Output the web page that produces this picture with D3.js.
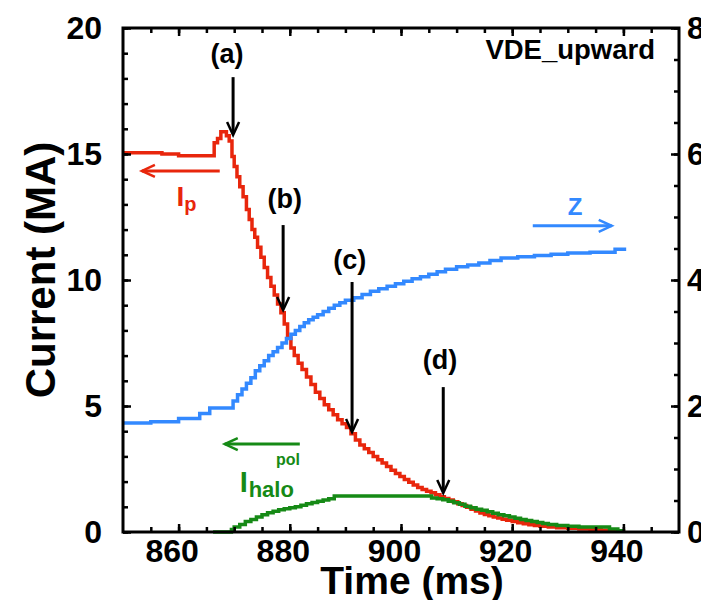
<!DOCTYPE html>
<html><head><meta charset="utf-8">
<script src="https://cdn.jsdelivr.net/npm/d3@7"></script>
<style>body{margin:0;background:#fff}svg{display:block}text{font-family:"Liberation Sans",Arial,Helvetica,sans-serif;font-weight:bold}</style>
</head><body><svg id="c" width="701" height="600"></svg>
<script>
// ---- data ----
const ipTime = [850,855,857,860,866,866.4,867.0,867.6,868.6,869.1,869.6,870.0,870.5,871.0,871.6,872.2,872.7,873.2,873.7,874.2,874.8,875.4,876.0,876.6,877.2,877.8,878.4,879.0,879.6,880.2,880.8,881.5,882.2,883.0,883.8,884.6,885.4,886.2,887.0,887.8,888.6,889.4,890.2,891.0,891.8,892.6,893.4,894.2,895.0,895.8,896.6,897.4,898.2,899.0,899.8,900.6,901.4,902.2,903.0,903.8,904.6,905.4,906.2,907.0,907.8,908.6,909.4,910.2,911.0,911.8,912.6,913.4,914.2,915.0,915.8,916.6,917.4,918.2,919.0,920.0,921.0,922.0,923.0,924.0,925.0,926.5,928.0,930.0,932.0,934.0,936.0,938.0,940.0];
const ipValue = [15.05,15.05,15.0,14.93,14.93,15.45,15.62,15.88,15.72,15.52,14.9,14.5,14.1,13.7,13.3,12.8,12.4,12.0,11.7,11.3,10.9,10.5,10.1,9.75,9.4,9.05,8.7,8.25,7.7,7.3,7.0,6.7,6.45,6.15,5.85,5.55,5.3,5.05,4.85,4.65,4.45,4.3,4.15,3.9,3.65,3.45,3.3,3.15,3.0,2.87,2.74,2.6,2.45,2.32,2.2,2.08,1.97,1.87,1.77,1.69,1.62,1.56,1.48,1.4,1.33,1.27,1.2,1.12,1.05,0.98,0.9,0.83,0.75,0.69,0.64,0.6,0.56,0.51,0.47,0.42,0.37,0.33,0.29,0.26,0.23,0.2,0.17,0.15,0.12,0.1,0.07,0.03,0.0];

const haloTime = [866.2,868.9,869.5,870.0,871.0,872.0,873.0,874.0,875.0,876.0,877.0,878.0,879.0,880.0,881.0,882.0,883.0,884.0,885.0,886.0,887.0,888.0,905.5,906.5,907.5,908.5,909.5,910.5,911.5,912.5,913.5,914.5,915.5,916.5,917.5,918.5,919.5,920.5,921.5,922.5,923.5,924.5,925.5,926.5,928.0,930.0,932.0,937.5,939.0,940.0];
const haloValue = [0,0,0.1,0.2,0.3,0.42,0.5,0.6,0.68,0.76,0.82,0.88,0.92,0.96,1.0,1.06,1.12,1.17,1.22,1.27,1.32,1.43,1.35,1.32,1.28,1.22,1.16,1.1,1.02,0.96,0.9,0.86,0.8,0.74,0.68,0.64,0.6,0.55,0.5,0.46,0.42,0.38,0.34,0.3,0.26,0.23,0.2,0.12,0.05,0];

const zTime = [850,855,860,863.8,865.6,869.4,869.8,870.6,871.4,872.2,873.0,873.8,874.6,875.4,876.2,877.0,877.8,878.6,879.4,880.2,881.0,881.8,882.6,883.4,884.2,885.0,886.0,887.0,888.0,889.0,890.0,891.5,893.0,894.5,896.0,897.5,899.0,900.5,902.0,903.5,905.0,906.5,908.0,910.0,912.0,914.0,916.0,918.0,921.0,924.0,927.0,930.0,934.0,938.5,940.5];
const zValue = [1.73,1.75,1.8,1.88,1.97,1.97,2.08,2.18,2.27,2.36,2.45,2.56,2.64,2.72,2.8,2.86,2.93,3.0,3.07,3.14,3.2,3.26,3.32,3.37,3.41,3.45,3.5,3.55,3.6,3.64,3.68,3.72,3.77,3.82,3.86,3.9,3.94,3.98,4.02,4.05,4.09,4.13,4.17,4.21,4.24,4.27,4.31,4.35,4.37,4.39,4.41,4.43,4.44,4.49,4.49];

const xTicks = [860,880,900,920,940];
const yTicks = [0,5,10,15,20];
const yRTicks = [0,2,4,6,8];

// annotation arrows (time, from current, to current, label)
const markLabels = ["(a)","(b)","(c)","(d)"];
const markTime   = [869.8,878.8,891.2,907.6];
const markFrom   = [18.05,12.18,9.92,5.75];
const markTo     = [15.75,8.81,3.97,1.55];
const markLabelT = [868.7,879.1,890.8,907.0];
const markLabelV = [18.62,12.85,10.45,6.45];

// ---- chart ----
const svg = d3.select("#c");
const x = d3.scaleLinear().domain([850,950]).range([123,679]);
const y = d3.scaleLinear().domain([0,20]).range([532,28]);
const yR = d3.scaleLinear().domain([0,8]).range([532,28]);

const RED="#e8260c", BLUE="#3389ff", GREEN="#168a16";

function pts(t,v){return t.map((d,i)=>[d,v[i]]);}
const lineI = d3.line().x(d=>x(d[0])).y(d=>y(d[1])).curve(d3.curveStepAfter);
const lineZ = d3.line().x(d=>x(d[0])).y(d=>yR(d[1])).curve(d3.curveStepAfter);

svg.append("path").attr("d",lineI(pts(ipTime,ipValue))).attr("fill","none").attr("stroke",RED).attr("stroke-width",3.5);
svg.append("path").attr("d",lineZ(pts(zTime,zValue))).attr("fill","none").attr("stroke",BLUE).attr("stroke-width",3.5);
svg.append("path").attr("d",lineI(pts(haloTime,haloValue))).attr("fill","none").attr("stroke",GREEN).attr("stroke-width",3.5);

// axes
function styleAxis(g){g.select(".domain").remove();g.selectAll("line").attr("stroke","#000").attr("stroke-width",2.5);}
const minorX = d3.range(855,950,5);
const minorY = d3.range(0,21,1);
const minorYR = d3.range(0,8.01,0.5);
const FS = 32;

svg.append("g").attr("transform","translate(0,532)").call(d3.axisBottom(x).tickValues(minorX).tickSize(-5).tickFormat("")).call(styleAxis);
svg.append("g").attr("transform","translate(0,532)").call(d3.axisBottom(x).tickValues(xTicks).tickSize(-8).tickPadding(7).tickFormat(d3.format("d"))).call(styleAxis)
  .selectAll("text").attr("font-size",FS).attr("fill","#000").attr("dx",-7);
svg.append("g").attr("transform","translate(0,28)").call(d3.axisTop(x).tickValues(minorX).tickSize(-5).tickFormat("")).call(styleAxis);
svg.append("g").attr("transform","translate(0,28)").call(d3.axisTop(x).tickValues(xTicks).tickSize(-8).tickFormat("")).call(styleAxis);

svg.append("g").attr("transform","translate(123,0)").call(d3.axisLeft(y).tickValues(minorY).tickSize(-5).tickFormat("")).call(styleAxis);
svg.append("g").attr("transform","translate(123,0)").call(d3.axisLeft(y).tickValues(yTicks).tickSize(-8).tickPadding(21).tickFormat(d3.format("d"))).call(styleAxis)
  .selectAll("text").attr("font-size",FS).attr("fill","#000");
svg.append("g").attr("transform","translate(679,0)").call(d3.axisRight(yR).tickValues(minorYR).tickSize(-5).tickFormat("")).call(styleAxis);
svg.append("g").attr("transform","translate(679,0)").call(d3.axisRight(yR).tickValues(yRTicks).tickSize(-8).tickPadding(8).tickFormat(d3.format("d"))).call(styleAxis)
  .selectAll("text").attr("font-size",FS).attr("fill","#000");

// frame
svg.append("rect").attr("x",123).attr("y",28).attr("width",556).attr("height",504).attr("fill","none").attr("stroke","#000").attr("stroke-width",3);

// axis titles
svg.append("text").attr("x",412).attr("y",594).attr("text-anchor","middle").attr("font-size",39).text("Time (ms)");
svg.append("text").attr("transform","translate(55,270) rotate(-90)").attr("text-anchor","middle").attr("font-size",42).text("Current (MA)");

// VDE label
svg.append("text").attr("x",655).attr("y",59).attr("text-anchor","end").attr("font-size",27.5).text("VDE_upward");

// marker arrows
function vArrow(xp,y0,y1,color){
  svg.append("path").attr("d",`M${xp},${y0}L${xp},${y1-2}`).attr("stroke",color).attr("stroke-width",3).attr("fill","none");
  svg.append("path").attr("d",`M${xp-6},${y1-13}L${xp},${y1}L${xp+6},${y1-13}`).attr("stroke",color).attr("stroke-width",2.5).attr("fill","none");
}
markLabels.forEach((l,i)=>{
  vArrow(x(markTime[i]),y(markFrom[i]),y(markTo[i]),"#000");
  svg.append("text").attr("x",x(markLabelT[i])).attr("y",y(markLabelV[i])).attr("text-anchor","middle").attr("font-size",27).text(l);
});

function hArrow(x0,x1,yp,color){
  const dir = x1<x0?1:-1;
  svg.append("path").attr("d",`M${x0},${yp}L${x1},${yp}`).attr("stroke",color).attr("stroke-width",3).attr("fill","none");
  svg.append("path").attr("d",`M${x1+dir*13},${yp-6}L${x1},${yp}L${x1+dir*13},${yp+6}`).attr("stroke",color).attr("stroke-width",2.5).attr("fill","none");
}
// Ip legend
hArrow(x(867.4),x(853.4),y(14.33),RED);
const tIp = svg.append("text").attr("x",x(859.6)).attr("y",y(12.95)).attr("fill",RED).attr("font-size",28);
tIp.append("tspan").text("I");
tIp.append("tspan").attr("font-size",20).attr("dy",5).text("p");
// Z legend
hArrow(x(923.7),x(937.9),yR(4.86),BLUE);
svg.append("text").attr("x",x(931.3)).attr("y",yR(5.03)).attr("text-anchor","middle").attr("fill",BLUE).attr("font-size",24).text("Z");
// halo legend
hArrow(x(881.8),x(868.3),y(3.49),GREEN);
const g = svg.append("g").attr("fill",GREEN);
g.append("text").attr("x",x(871.0)).attr("y",y(1.6)).attr("font-size",29).text("I");
g.append("text").attr("x",x(877.5)).attr("y",y(2.65)).attr("font-size",16).text("pol");
g.append("text").attr("x",x(872.6)).attr("y",y(1.4)).attr("font-size",22).text("halo");
</script></body></html>
